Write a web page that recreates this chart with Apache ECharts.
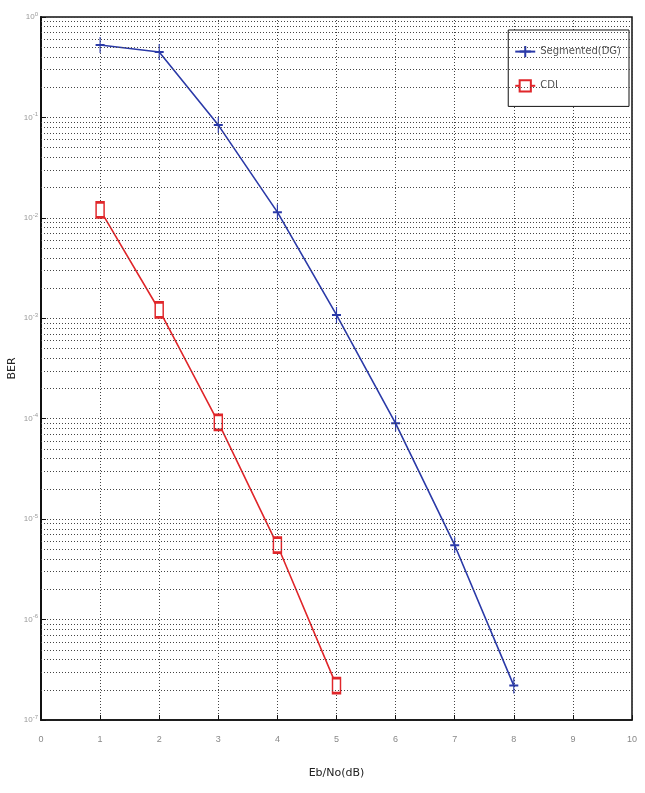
<!DOCTYPE html>
<html>
<head>
<meta charset="utf-8">
<script src="https://cdn.jsdelivr.net/npm/echarts@6/dist/echarts.min.js"></script>
<style>
  html, body { margin: 0; padding: 0; background: #fff; }
  #chart { width: 645px; height: 793px; }
</style>
</head>
<body>
<div id="chart"></div>
<script>
// Eb/No 点 (dB)
const segX = [1, 2, 3, 4, 5, 6, 7, 8]
const segBer = [0.526, 0.448, 0.0839, 0.0114, 1.08e-3, 9.0e-5, 5.5e-6, 2.2e-7]
const cdiX = [1, 2, 3, 4, 5]
const cdiBer = [0.012, 1.21e-3, 9.2e-5, 5.5e-6, 2.2e-7]
const seriesNames = ['Segmented(DG)', 'CDI']
const decadeExps = [-7, -6, -5, -4, -3, -2, -1] // 次网格线所在的十倍程

const myChart = echarts.init(document.getElementById('chart'))

// 次网格线 2..9 x 10^k
const minorGrid = []
decadeExps.forEach((k) => {
  for (let m = 2; m <= 9; m++) {
    const v = m * Math.pow(10, k)
    minorGrid.push([{ coord: [0, v] }, { coord: [10, v] }])
  }
})

const pair = (xs, ys) => xs.map((x, i) => [x, ys[i]])
const dotted = { color: '#444', width: 1, type: [1, 2] }

const option = {
  animation: false,
  backgroundColor: '#fff',
  grid: {
    left: 41, right: 13, top: 17, bottom: 73,
    outerBoundsMode: 'none', containLabel: false,
    show: true, borderColor: '#111', borderWidth: 1.5, backgroundColor: 'transparent'
  },
  legend: {
    right: 16, top: 30, orient: 'vertical',
    backgroundColor: '#fff', borderColor: '#111', borderWidth: 1,
    padding: [15, 8, 14, 6], itemGap: 21, itemWidth: 20, itemHeight: 14,
    textStyle: { fontSize: 10, color: '#555', fontFamily: 'DejaVu Sans' },
    data: seriesNames
  },
  xAxis: {
    type: 'value', min: 0, max: 10, interval: 1,
    name: 'Eb/No(dB)', nameLocation: 'middle', nameGap: 48,
    nameTextStyle: { fontSize: 11, color: '#222', fontFamily: 'DejaVu Sans' },
    axisLine: { lineStyle: { color: '#111', width: 1.5 } },
    axisTick: { inside: true, length: 5, lineStyle: { color: '#111' } },
    axisLabel: { fontSize: 9, color: '#888', margin: 15 },
    splitLine: { show: true, lineStyle: dotted }
  },
  yAxis: {
    type: 'log', logBase: 10, min: 1e-7, max: 1,
    name: 'BER', nameLocation: 'middle', nameGap: 23, nameRotate: 90,
    nameMoveOverlap: false,
    nameTextStyle: { fontSize: 11, color: '#222', fontFamily: 'DejaVu Sans' },
    axisLine: { show: true, lineStyle: { color: '#111', width: 2 } },
    axisTick: { inside: true, length: 5, lineStyle: { color: '#111' } },
    axisLabel: {
      margin: 3, color: '#999',
      formatter: (v) => '{b|10}{e|' + Math.round(Math.log10(v)) + '}',
      rich: {
        b: { fontSize: 8, color: '#999' },
        e: { fontSize: 6, color: '#999', verticalAlign: 'top', padding: [0, 0, 6, 0] }
      }
    },
    splitLine: { show: true, lineStyle: dotted }
  },
  series: [
    {
      name: seriesNames[0], type: 'line', data: pair(segX, segBer),
      symbol: 'path://M5,0L5,20M0,10L10,10', symbolSize: [9, 16],
      itemStyle: { color: '#2b3aa8', borderColor: '#2b3aa8', borderWidth: 1.5 },
      lineStyle: { color: '#2b3aa8', width: 1.6 },
      markLine: {
        silent: true, symbol: 'none', label: { show: false },
        lineStyle: dotted, data: minorGrid
      }
    },
    {
      name: seriesNames[1], type: 'line', data: pair(cdiX, cdiBer),
      symbol: 'rect', symbolSize: [8, 15],
      itemStyle: { color: '#fff', borderColor: '#e0262a', borderWidth: 2 },
      lineStyle: { color: '#e0262a', width: 1.6 }
    }
  ]
}
myChart.setOption(option)
</script>
</body>
</html>
